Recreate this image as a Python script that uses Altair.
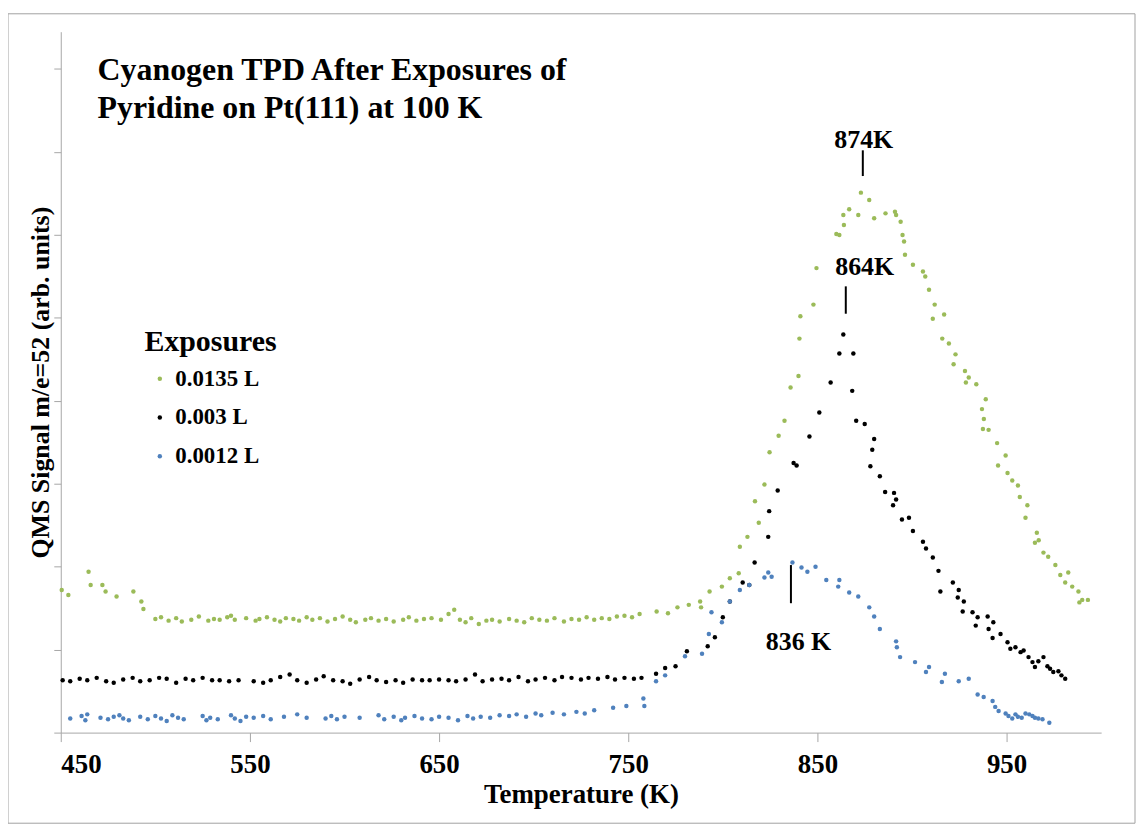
import altair as alt
import pandas as pd

# ---------------- data ----------------
# Temperature (K), QMS signal (arb. units; 1 unit = 1 y tick)
green_pts = [
    (450.5, 1.72), (454, 1.66), (464.7, 1.94), (465.8, 1.78), (472, 1.78), (473.7, 1.70),
    (479.5, 1.64), (488.4, 1.70), (492.6, 1.58), (493.7, 1.49),
    (500, 1.37), (503, 1.39), (507, 1.35), (511, 1.38), (514, 1.34), (519, 1.36), (523, 1.40),
    (528, 1.35), (531, 1.37), (534, 1.36), (538, 1.39), (540, 1.41), (542, 1.36), (548, 1.38),
    (553, 1.35), (555, 1.37), (559, 1.39), (563, 1.36), (566, 1.34), (569, 1.38), (573, 1.37),
    (576, 1.35), (580, 1.39), (583, 1.36), (587, 1.38), (591, 1.34), (595, 1.37), (599, 1.40),
    (603, 1.36), (606, 1.33), (611, 1.36), (614, 1.38), (618, 1.35), (622, 1.37), (626, 1.34),
    (631, 1.36), (634, 1.39), (638, 1.35), (642, 1.37), (646, 1.38), (651, 1.36), (655, 1.43),
    (658, 1.48), (661, 1.36), (664, 1.33), (667, 1.38), (671, 1.31), (675, 1.35), (678, 1.36),
    (682, 1.34), (687, 1.37), (691, 1.35), (695, 1.33), (699, 1.38), (703, 1.36), (707, 1.35),
    (711, 1.38), (716, 1.34), (720, 1.37), (724, 1.36), (728, 1.39), (732, 1.36), (736, 1.38),
    (740, 1.37), (744, 1.40), (748, 1.41), (752, 1.39), (756, 1.43),
    (765, 1.46), (771, 1.44), (776, 1.51), (782, 1.54), (788, 1.58), (788.5, 1.51), (793, 1.70),
    (799.5, 1.76), (803.7, 1.86), (808.4, 1.92), (809, 2.24), (813, 2.36), (817, 2.79),
    (819, 2.53), (822, 2.99), (824.7, 3.38), (829.5, 3.58), (832.6, 3.76), (835.8, 4.16),
    (840, 4.30), (840.5, 4.75), (841, 5.02), (847.9, 5.16), (849.5, 5.60), (860, 6.01),
    (861.6, 6.00), (864, 6.12), (863.7, 6.24), (866.8, 6.31), (871.6, 6.24), (873, 6.51),
    (877.4, 6.42), (880, 6.20), (886, 6.26), (891, 6.28), (891.6, 6.24), (894, 6.16),
    (895, 6.00), (895.8, 5.92), (896.3, 5.76), (900.5, 5.64), (905.8, 5.56), (907, 5.50),
    (909, 5.34), (912, 5.16), (917, 5.04), (911, 4.99), (916, 4.75), (919.5, 4.69), (923, 4.56),
    (922, 4.44), (928, 4.36), (930, 4.28), (928.5, 4.22), (934, 4.20), (939, 4.02), (937, 3.90),
    (938, 3.78), (937.5, 3.66), (940.5, 3.65), (945, 3.49), (949.5, 3.34), (945.5, 3.22),
    (950.5, 3.13), (953, 3.04), (956, 2.98), (957, 2.84), (961, 2.74), (960, 2.59), (966, 2.41),
    (967, 2.32), (965, 2.29), (969.5, 2.17), (972, 2.12), (975.8, 2.02), (978.4, 1.90),
    (982.6, 1.93), (981, 1.81), (984.7, 1.76), (988, 1.70), (990, 1.60), (993, 1.60), (988.5, 1.57),
]

black_pts = [
    (451, 0.63), (455, 0.62), (460, 0.65), (464, 0.63), (469, 0.66), (474, 0.62), (478, 0.60),
    (483, 0.64), (488, 0.66), (492, 0.62), (497, 0.63), (502, 0.66), (506, 0.65), (511, 0.60),
    (516, 0.65), (520, 0.63), (525, 0.66), (530, 0.63), (534, 0.63), (539, 0.62), (544, 0.63),
    (552, 0.62), (557, 0.60), (561, 0.63), (566, 0.67), (571, 0.70), (575, 0.63), (580, 0.60),
    (585, 0.64), (589, 0.68), (594, 0.63), (599, 0.62), (603, 0.59), (608, 0.64), (613, 0.67),
    (617, 0.63), (622, 0.61), (627, 0.63), (631, 0.60), (636, 0.64), (641, 0.63), (645, 0.63),
    (650, 0.64), (655, 0.63), (659, 0.62), (664, 0.64), (669, 0.70), (673, 0.62), (678, 0.64),
    (683, 0.65), (687, 0.63), (692, 0.67), (697, 0.62), (701, 0.64), (706, 0.66), (711, 0.63),
    (715, 0.67), (720, 0.66), (725, 0.64), (729, 0.66), (734, 0.65), (739, 0.67), (743, 0.64),
    (748, 0.66), (753, 0.65), (757, 0.66),
    (764.7, 0.71), (769.5, 0.78), (775, 0.80), (781, 0.98), (792, 1.04), (795.8, 1.15),
    (800, 1.39), (803.7, 1.58), (810.5, 1.81), (814, 1.78), (816.8, 2.05), (824, 2.36),
    (824.5, 2.67), (829, 2.92), (837.4, 3.25), (839, 3.22), (845.8, 3.57), (851, 3.86),
    (857, 4.22), (861.6, 4.57), (863.7, 4.80), (869, 4.57), (868.4, 4.12), (870.5, 3.76),
    (875, 3.72), (880, 3.54), (879, 3.41), (878, 3.21), (883, 3.09), (885.8, 2.90),
    (890.5, 2.89), (891.6, 2.81), (890, 2.74), (894.7, 2.57), (898.4, 2.59), (900.5, 2.43),
    (905.8, 2.30), (907.4, 2.22), (911, 2.11), (914, 1.95), (915, 1.70), (921.6, 1.81),
    (924.7, 1.72), (924.2, 1.63), (927.4, 1.58), (926.8, 1.46), (932, 1.45), (934.7, 1.39),
    (933.7, 1.29), (940, 1.40), (940.5, 1.25), (943, 1.33), (942.6, 1.14), (946.8, 1.19),
    (950.5, 1.09), (952, 1.01), (954.7, 1.03), (957.4, 0.97), (959, 0.99), (961.6, 0.91),
    (963.7, 0.85), (965, 0.79), (966.8, 0.86), (969.5, 0.91), (971.6, 0.80), (973, 0.77),
    (974.7, 0.73), (977.4, 0.74), (979, 0.69), (981, 0.65),
]

blue_pts = [
    (455, 0.17), (461, 0.20), (463, 0.15), (464, 0.22), (471, 0.18), (475, 0.16), (478, 0.19),
    (481, 0.21), (483, 0.17), (486, 0.15), (492, 0.19), (496, 0.16), (500, 0.20), (503, 0.17),
    (506, 0.14), (509, 0.21), (512, 0.18), (515, 0.16), (525, 0.20), (527, 0.15), (529, 0.18),
    (533, 0.16), (540, 0.21), (542, 0.17), (545, 0.14), (548, 0.19), (552, 0.18), (557, 0.20),
    (561, 0.16), (568, 0.19), (575, 0.22), (580, 0.18), (590, 0.17), (593, 0.20), (596, 0.16),
    (600, 0.19), (608, 0.18), (618, 0.21), (621, 0.16), (626, 0.19), (630, 0.15), (632, 0.18),
    (637, 0.20), (641, 0.17), (646, 0.16), (650, 0.19), (655, 0.18), (660, 0.15), (665, 0.20),
    (668, 0.17), (672, 0.19), (677, 0.18), (682, 0.21), (687, 0.20), (691, 0.22), (696, 0.19),
    (701, 0.23), (704, 0.21), (710, 0.24), (716, 0.22), (722.6, 0.25), (727, 0.23),
    (732, 0.27), (742, 0.30), (749, 0.32), (758, 0.41), (758.5, 0.32),
    (764.7, 0.62), (769.5, 0.69), (780, 0.92), (789, 0.95), (792.6, 1.19), (794, 1.45),
    (799.5, 1.33), (803.7, 1.58), (809, 1.72), (814, 1.78), (822, 1.87), (824, 1.93),
    (825.8, 1.88), (836.8, 2.05), (841.6, 1.99), (844.7, 1.94), (849, 2.00), (854.7, 1.84),
    (861.6, 1.84), (861, 1.76), (866.8, 1.69), (871.6, 1.64), (877.4, 1.51), (880, 1.40),
    (883, 1.25), (891.6, 1.10), (892, 1.03), (893.7, 0.91), (901.6, 0.85), (909, 0.79),
    (907.4, 0.73), (915.8, 0.61), (917.4, 0.71), (924.7, 0.62), (930, 0.65), (934.7, 0.46),
    (937.9, 0.43), (942.6, 0.38), (944, 0.31), (945.8, 0.26), (949.5, 0.23), (951, 0.20),
    (953, 0.17), (954.7, 0.22), (956, 0.19), (958, 0.18), (960, 0.23), (962, 0.22),
    (963.7, 0.20), (965, 0.18), (966.8, 0.17), (969, 0.16), (972.6, 0.12),
]

series_names = ["0.0135 L", "0.003 L", "0.0012 L"]
series_colors = ["#9BBB59", "#000000", "#4F81BD"]

x_ticks = [450, 550, 650, 750, 850, 950]
y_ticks = [0, 1, 2, 3, 4, 5, 6, 7, 8]

# peak annotations: label, peak temperature, label position, marker line span
peak_labels = ["874K", "864K", "836 K"]
peak_T = [874, 865, 836]
label_T = [874.5, 875, 840]
label_S = [7.05, 5.52, 0.99]
line_lo = [6.71, 5.05, 1.56]
line_hi = [7.02, 5.38, 2.02]

title_line1 = "Cyanogen TPD After Exposures of"
title_line2 = "Pyridine on Pt(111) at 100 K"

# ---------------- build tables ----------------
rows = []
for name, pts in zip(series_names, [green_pts, black_pts, blue_pts]):
    for t, s in pts:
        rows.append({"T": t, "S": s, "Exposure": name})
df = pd.DataFrame(rows)

ann = pd.DataFrame({"label": peak_labels, "T": peak_T, "lt": label_T, "ls": label_S,
                    "lo": line_lo, "hi": line_hi})
one = pd.DataFrame({"k": [0]})

FONT = "Liberation Serif"
W, H = 1045, 704

xscale = alt.Scale(domain=[450, 1000], nice=False, zero=False)
yscale = alt.Scale(domain=[0, 8.45], nice=False, zero=False)

points = alt.Chart(df).mark_circle(size=20, opacity=1).encode(
    x=alt.X("T:Q", scale=xscale,
            axis=alt.Axis(values=x_ticks, title="Temperature (K)", grid=False,
                          labelFont=FONT, labelFontWeight="bold", labelFontSize=27,
                          labelColor="black", labelPadding=10, tickSize=9,
                          tickColor="#A6A6A6", domainColor="#A6A6A6",
                          titleFont=FONT, titleFontWeight="bold", titleFontSize=27,
                          titleColor="black", titlePadding=4)),
    y=alt.Y("S:Q", scale=yscale,
            axis=alt.Axis(values=y_ticks, labels=False, title="QMS Signal m/e=52 (arb. units)",
                          grid=False, tickSize=7, tickColor="#A6A6A6",
                          domainColor="#A6A6A6", titleFont=FONT, titleFontWeight="bold",
                          titleFontSize=26, titleColor="black", titlePadding=0)),
    color=alt.Color("Exposure:N",
                    scale=alt.Scale(domain=series_names, range=series_colors),
                    legend=alt.Legend(title="Exposures", orient="none", legendX=84, legendY=297,
                                      titleFont=FONT, titleFontSize=30, titleFontWeight="bold",
                                      titleColor="black", titlePadding=10,
                                      labelFont=FONT, labelFontSize=23, labelFontWeight="bold",
                                      labelColor="black", symbolSize=20, symbolType="circle",
                                      rowPadding=15, labelOffset=4, symbolStrokeWidth=0,
                                      symbolOffset=4)),
)

marker_lines = alt.Chart(ann).mark_rule(color="black", strokeWidth=2).encode(
    x=alt.X("T:Q", scale=xscale), y=alt.Y("lo:Q", scale=yscale), y2="hi:Q")

marker_text = alt.Chart(ann).mark_text(font=FONT, fontSize=26, fontWeight="bold",
                                       color="black", baseline="alphabetic").encode(
    x=alt.X("lt:Q", scale=xscale), y=alt.Y("ls:Q", scale=yscale), text="label:N")

title1 = alt.Chart(one).mark_text(font=FONT, fontSize=32, fontWeight="bold", color="black",
                                  align="left", baseline="alphabetic", text=title_line1).encode(
    x=alt.value(37), y=alt.value(49))
title2 = alt.Chart(one).mark_text(font=FONT, fontSize=32, fontWeight="bold", color="black",
                                  align="left", baseline="alphabetic", text=title_line2).encode(
    x=alt.value(37), y=alt.value(87))

border = alt.Chart(one).mark_rect(fill=None, stroke="#A0A0A0", strokeWidth=1).encode(
    x=alt.value(-53), x2=alt.value(1079), y=alt.value(-18), y2=alt.value(795))

chart = alt.layer(border, points, marker_lines, marker_text, title1, title2).properties(
    width=W, height=H,
    autosize=alt.AutoSizeParams(type="none"),
    padding={"left": 53, "top": 22, "right": 35, "bottom": 94},
).configure_view(stroke=None)

chart.save("out.html", embed_options={"renderer": "svg", "actions": False})
